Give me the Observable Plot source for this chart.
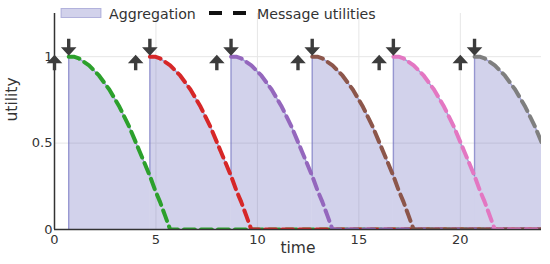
<!DOCTYPE html>
<html>
<head>
<meta charset="utf-8">
<script src="https://cdn.jsdelivr.net/npm/d3@7"></script>
<script src="https://cdn.jsdelivr.net/npm/@observablehq/plot@0.6"></script>
<style>
  body { margin: 0; background: white; }
  #wrap { position: relative; width: 550px; height: 264px; }
  #legend { position: absolute; left: 0; top: 0; pointer-events: none; }
  text { font-family: "DejaVu Sans", sans-serif; }
</style>
</head>
<body>
<div id="wrap"></div>
<script>
// ---- data ----
const requestTimes = [0, 4, 8, 12, 16, 20];          // up arrows
const messageTimes = [0.7, 4.7, 8.7, 12.7, 16.7, 20.7]; // down arrows / message arrivals
const profileDt = [0, 0.25, 0.5, 0.75, 1, 1.25, 1.5, 1.75, 2, 2.25, 2.5, 2.75, 3, 3.25, 3.5, 3.75, 4, 4.25, 4.5, 4.75, 5];
const profileUtility = [1, 1, 0.99, 0.97, 0.95, 0.92, 0.89, 0.85, 0.81, 0.76, 0.71, 0.65, 0.59, 0.52, 0.45, 0.38, 0.31, 0.23, 0.16, 0.08, 0];
const messageColors = ["#2ca02c", "#d62728", "#9467bd", "#8c564b", "#e377c2", "#7f7f7f"];
const xTicks = [0, 5, 10, 15, 20];
const yTicks = [0, 0.5, 1];
const timeEnd = 24;

// ---- derived tables ----
const msgData = [];
messageTimes.forEach((t0, k) => {
  profileDt.forEach((dt, i) => msgData.push({k, t: t0 + dt, u: profileUtility[i]}));
  msgData.push({k, t: Math.max(timeEnd, t0 + 5), u: 0});
});
const aggData = [];
const jumps = [];
messageTimes.forEach((t0, k) => {
  const next = k + 1 < messageTimes.length ? messageTimes[k + 1] : Infinity;
  profileDt.forEach((dt, i) => {
    if (t0 + dt <= next + 1e-9) aggData.push({k, t: t0 + dt, u: profileUtility[i]});
  });
  let prev = 0;
  if (k > 0) {
    const dtPrev = t0 - messageTimes[k - 1];
    const idx = profileDt.findIndex(d => Math.abs(d - dtPrev) < 1e-9);
    prev = idx >= 0 ? profileUtility[idx] : 0;
  }
  jumps.push({t: t0, from: prev, to: 1});
});

const aggColor = "#6e6ebe";
const downArrow = {draw(ctx) {
  ctx.moveTo(-1.7, -17); ctx.lineTo(1.7, -17); ctx.lineTo(1.7, -8.5);
  ctx.lineTo(7.8, -8.5); ctx.lineTo(0, 0); ctx.lineTo(-7.8, -8.5);
  ctx.lineTo(-1.7, -8.5); ctx.closePath();
}};
const upArrow = {draw(ctx) {
  ctx.moveTo(0, 0); ctx.lineTo(7.8, 8.5); ctx.lineTo(1.7, 8.5);
  ctx.lineTo(1.7, 15.5); ctx.lineTo(-1.7, 15.5); ctx.lineTo(-1.7, 8.5);
  ctx.lineTo(-7.8, 8.5); ctx.closePath();
}};

const chart = Plot.plot({
  width: 550, height: 264,
  marginLeft: 54, marginRight: 9, marginTop: 13, marginBottom: 35,
  style: {background: "white", fontFamily: "'DejaVu Sans', sans-serif", fontSize: "13px", color: "#333", overflow: "visible"},
  x: {domain: [0, timeEnd], ticks: xTicks, tickSize: 0, tickPadding: 5, label: null, tickFormat: d => String(d)},
  y: {domain: [0, 1.25], ticks: yTicks, tickSize: 0, tickPadding: 2, label: null, tickFormat: d => String(d)},
  marks: [
    Plot.ruleY(yTicks.filter(d => d > 0), {stroke: "#e6e6e6", strokeWidth: 1}),
    Plot.ruleX(xTicks.filter(d => d > 0), {stroke: "#e6e6e6", strokeWidth: 1}),
    Plot.area(aggData, {x1: "t", y1: () => 0, y2: "u", z: "k", fill: aggColor, fillOpacity: 0.31, clip: true}),
    Plot.line(aggData, {x: "t", y: "u", z: "k", stroke: aggColor, strokeOpacity: 0.6, strokeWidth: 1.4, clip: true}),
    Plot.ruleX(jumps, {x: "t", y1: "from", y2: "to", stroke: aggColor, strokeOpacity: 0.6, strokeWidth: 1.4}),
    Plot.line(msgData, {x: "t", y: "u", z: "k", stroke: d => messageColors[d.k], strokeWidth: 4, strokeDasharray: "11,6", clip: true}),
    Plot.ruleX([0], {stroke: "#333", strokeWidth: 1.5}),
    Plot.ruleY([0], {stroke: "#333", strokeWidth: 1.5}),
    Plot.dot(messageTimes, {x: d => d, y: () => 1, dy: -1, symbol: downArrow, fill: "#3c3c3c", stroke: null}),
    Plot.dot(requestTimes, {x: d => d, y: () => 1, dy: -2, symbol: upArrow, fill: "#3c3c3c", stroke: null}),
    Plot.text(["time"], {text: d => d, frameAnchor: "bottom", dy: 23, fontSize: 15.5, fill: "#333"}),
    Plot.text(["utility"], {text: d => d, frameAnchor: "left", dx: -42, rotate: -90, fontSize: 15.5, fill: "#333"})
  ]
});
const wrap = document.getElementById("wrap");
wrap.appendChild(chart);

// legend overlay
const ns = "http://www.w3.org/2000/svg";
const leg = document.createElementNS(ns, "svg");
leg.setAttribute("id", "legend");
leg.setAttribute("width", 550);
leg.setAttribute("height", 30);
leg.innerHTML = `
  <rect x="61" y="8.5" width="40" height="9" fill="${aggColor}" fill-opacity="0.31" stroke="${aggColor}" stroke-opacity="0.45" stroke-width="1"></rect>
  <text x="109" y="18.5" font-size="14.2" fill="#333">Aggregation</text>
  <line x1="209" y1="13" x2="247" y2="13" stroke="#111" stroke-width="4" stroke-dasharray="13,11"></line>
  <text x="257" y="18.5" font-size="14.2" fill="#333">Message utilities</text>`;
wrap.appendChild(leg);
</script>
</body>
</html>
